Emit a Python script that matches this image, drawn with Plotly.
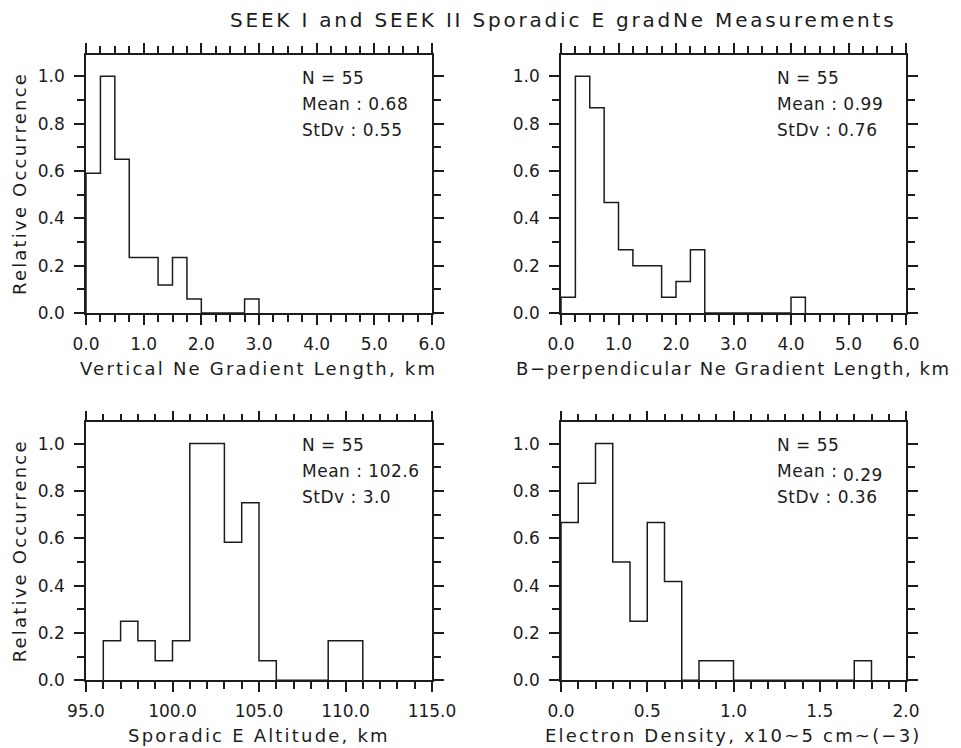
import plotly.graph_objects as go

# page body has an 8px margin, so the figure is drawn 8px in from the window edge
OFF = 8
W, H = 961 - OFF, 748 - OFF

# ---------------- data ----------------
title_text = "SEEK I and SEEK II Sporadic E gradNe Measurements"

vert_edges = [0.0, 0.25, 0.5, 0.75, 1.0, 1.25, 1.5, 1.75, 2.0, 2.25, 2.5, 2.75, 3.0]
vert_heights = [0.59, 1.0, 0.65, 0.235, 0.235, 0.118, 0.235, 0.059, 0.0, 0.0, 0.0, 0.059]

bperp_edges = [0.0, 0.25, 0.5, 0.75, 1.0, 1.25, 1.5, 1.75, 2.0, 2.25, 2.5, 2.75, 3.0,
               3.25, 3.5, 3.75, 4.0, 4.25]
bperp_heights = [0.067, 1.0, 0.867, 0.467, 0.267, 0.2, 0.2, 0.067, 0.133, 0.267,
                 0.0, 0.0, 0.0, 0.0, 0.0, 0.0, 0.067]

alt_edges = [96, 97, 98, 99, 100, 101, 102, 103, 104, 105, 106, 107, 108, 109, 110, 111]
alt_heights = [0.167, 0.25, 0.167, 0.083, 0.167, 1.0, 1.0, 0.583, 0.75, 0.083,
               0.0, 0.0, 0.0, 0.167, 0.167]

ne_edges = [0.0, 0.1, 0.2, 0.3, 0.4, 0.5, 0.6, 0.7, 0.8, 0.9, 1.0, 1.1, 1.2, 1.3,
            1.4, 1.5, 1.6, 1.7, 1.8]
ne_heights = [0.667, 0.833, 1.0, 0.5, 0.25, 0.667, 0.417, 0.0, 0.083, 0.083,
              0.0, 0.0, 0.0, 0.0, 0.0, 0.0, 0.0, 0.083]

x_titles = ["Vertical Ne Gradient Length, km",
            "B\u2212perpendicular Ne Gradient Length, km",
            "Sporadic E Altitude, km",
            "Electron Density, x10~5 cm~(\u22123)"]
x_title_spacing = [2.2, 1.6, 2.2, 2.2]
y_title = "Relative Occurrence"

n_labels = ["N = 55", "N = 55", "N = 55", "N = 55"]
mean_labels = ["Mean : 0.68", "Mean : 0.99", "Mean : 102.6", "Mean :"]
mean_extra = "0.29"
stdv_labels = ["StDv : 0.55", "StDv : 0.76", "StDv : 3.0", "StDv : 0.36"]

x_ranges = [[0, 6], [0, 6], [95, 115], [0, 2]]
x_dticks = [1.0, 1.0, 5.0, 0.5]
x_minor = [0.25, 0.25, 1.0, 0.1]

# ---------------- layout helpers ----------------
INK = "#1c1c1c"
FONT = "DejaVu Sans"

def px(x):
    return (x - OFF) / W

def py(y):
    return 1 - (y - OFF) / H

def spaced(txt, sp):
    return '<span style="letter-spacing:%spx">%s</span>' % (sp, txt)

panels = [
    # left, right, top, bottom in window pixels
    (86, 432, 55, 313),
    (561, 906, 55, 313),
    (86, 432, 422.3, 680.3),
    (561, 906, 422.3, 680.3),
]

def step_xy(edges, heights):
    xs = [edges[0]] + list(edges[:-1]) + [edges[-1]]
    ys = [0.0] + list(heights) + [0.0]
    return xs, ys

fig = go.Figure()
series = [(vert_edges, vert_heights), (bperp_edges, bperp_heights),
          (alt_edges, alt_heights), (ne_edges, ne_heights)]

annotations = []
for i, ((edges, heights), (l, r, t, b)) in enumerate(zip(series, panels)):
    k = "" if i == 0 else str(i + 1)
    xs, ys = step_xy(edges, heights)
    fig.add_trace(go.Scatter(x=xs, y=ys, mode="lines", line_shape="hv",
                             line=dict(color=INK, width=1.5),
                             xaxis="x" + k, yaxis="y" + k, showlegend=False,
                             hoverinfo="skip"))
    common = dict(showgrid=False, zeroline=False, showline=True, linecolor=INK,
                  linewidth=1.5, mirror="allticks", ticks="outside", ticklen=10,
                  tickwidth=1.5, tickcolor=INK, tickformat=".1f",
                  automargin=False,
                  tickfont=dict(family=FONT, size=17, color=INK))
    fig.layout["xaxis" + k] = dict(
        domain=[px(l), px(r)], range=x_ranges[i], dtick=x_dticks[i],
        tick0=x_ranges[i][0], anchor="y" + k, ticklabelstandoff=5,
        minor=dict(dtick=x_minor[i], ticks="outside", ticklen=7, tickwidth=1.5,
                   tickcolor=INK, showgrid=False),
        **common)
    fig.layout["yaxis" + k] = dict(
        domain=[py(b), py(t)], range=[0, 1.09], dtick=0.2, tick0=0,
        anchor="x" + k, ticklabelstandoff=6,
        minor=dict(dtick=0.1, ticks="outside", ticklen=7, tickwidth=1.5,
                   tickcolor=INK, showgrid=False),
        **common)

    cx = (l + r) / 2
    annotations.append(dict(text=spaced(x_titles[i], x_title_spacing[i]),
                            x=px(cx), y=py(b + 55),
                            xref="paper", yref="paper", showarrow=False,
                            xanchor="center", yanchor="middle",
                            font=dict(family=FONT, size=18, color=INK)))
    if i in (0, 2):
        annotations.append(dict(text=spaced(y_title, 2.2), x=px(19),
                                y=py((t + b) / 2),
                                xref="paper", yref="paper", showarrow=False,
                                textangle=-90, xanchor="center", yanchor="middle",
                                font=dict(family=FONT, size=18, color=INK)))
    tx = l + 214
    ty = t + 23
    for j, txt in enumerate([n_labels[i], mean_labels[i], stdv_labels[i]]):
        annotations.append(dict(text=spaced(txt, 0.5), x=px(tx), y=py(ty + 26 * j),
                                xref="paper", yref="paper", showarrow=False,
                                xanchor="left", yanchor="middle",
                                font=dict(family=FONT, size=17, color=INK)))
    if i == 3:
        annotations.append(dict(text=spaced(mean_extra, 0.5), x=px(l + 280),
                                y=py(ty + 30),
                                xref="paper", yref="paper", showarrow=False,
                                xanchor="left", yanchor="middle",
                                font=dict(family=FONT, size=17, color=INK)))

annotations.append(dict(text=spaced(title_text, 2.8), x=px(563), y=py(20),
                        xref="paper", yref="paper", showarrow=False,
                        xanchor="center", yanchor="middle",
                        font=dict(family=FONT, size=20, color=INK)))

fig.update_layout(template="none", width=W, height=H,
                  margin=dict(l=0, r=0, t=0, b=0),
                  paper_bgcolor="white", plot_bgcolor="white",
                  annotations=annotations, showlegend=False)

fig.write_html("out.html")
